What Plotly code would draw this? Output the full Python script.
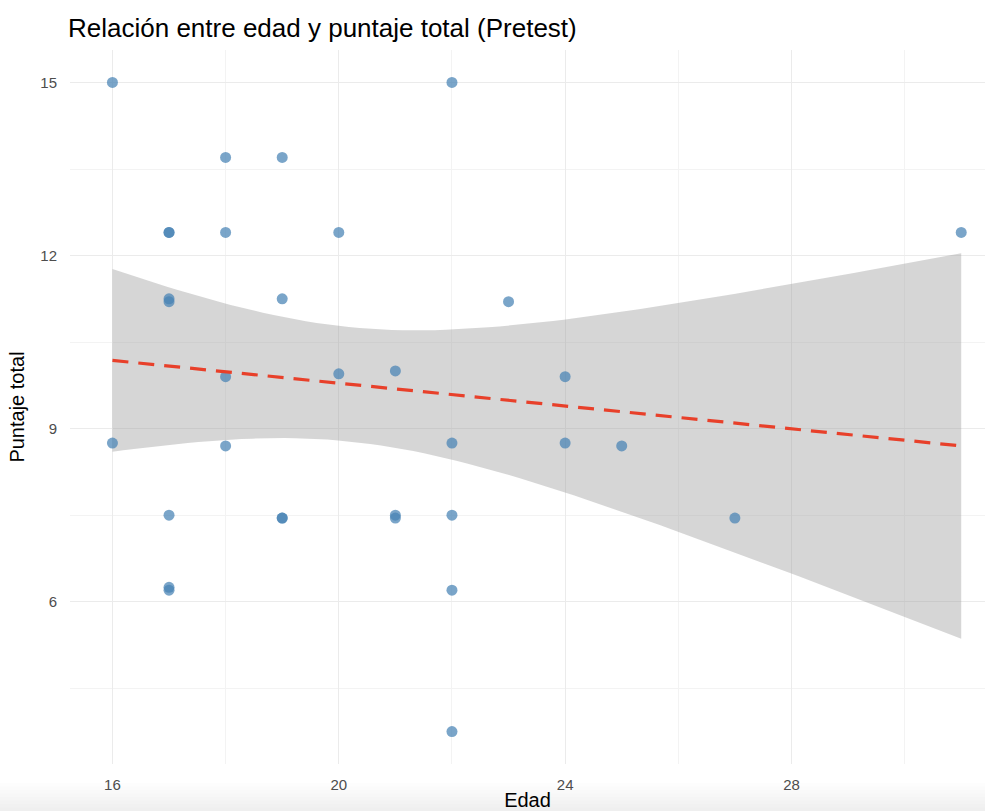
import numpy as np
import plotly.graph_objects as go

# Edad y puntaje total de cada participante (pretest)
edad = [16, 16,
        17, 17, 17, 17, 17, 17, 17,
        18, 18, 18, 18,
        19, 19, 19, 19,
        20, 20,
        21, 21, 21,
        22, 22, 22, 22, 22,
        23,
        24, 24,
        25,
        27,
        31]
puntaje = [15.0, 8.75,
           12.4, 12.4, 11.25, 11.2, 7.5, 6.25, 6.2,
           13.7, 12.4, 9.9, 8.7,
           13.7, 11.25, 7.45, 7.45,
           12.4, 9.95,
           10.0, 7.5, 7.45,
           15.0, 8.75, 7.5, 6.2, 3.75,
           11.2,
           9.9, 8.75,
           8.7,
           7.45,
           12.4]

x_ticks = [16, 20, 24, 28]
y_ticks = [6, 9, 12, 15]

# Ajuste lineal con banda de confianza del 95 %
x = np.array(edad, dtype=float)
y = np.array(puntaje, dtype=float)
n = len(x)
b1, b0 = np.polyfit(x, y, 1)
resid = y - (b0 + b1 * x)
s = np.sqrt(np.sum(resid ** 2) / (n - 2))
sxx = np.sum((x - x.mean()) ** 2)
t_crit = 2.0395  # t(0.975, gl = 31)
xg = np.linspace(x.min(), x.max(), 80)
yg = b0 + b1 * xg
se = s * np.sqrt(1.0 / n + (xg - x.mean()) ** 2 / sxx)
lo = yg - t_crit * se
hi = yg + t_crit * se

fig = go.Figure()

fig.add_trace(go.Scatter(
    x=np.concatenate([xg, xg[::-1]]),
    y=np.concatenate([hi, lo[::-1]]),
    fill="toself", fillcolor="rgba(153,153,153,0.4)",
    line=dict(width=0), mode="lines", hoverinfo="skip", showlegend=False,
))

fig.add_trace(go.Scatter(
    x=edad, y=puntaje, mode="markers",
    marker=dict(size=11, color="rgba(70,130,180,0.72)", line=dict(width=0)),
    showlegend=False,
))

fig.add_trace(go.Scatter(
    x=xg, y=yg, mode="lines",
    line=dict(color="#e8402a", width=3.2, dash="16px,10px"),
    showlegend=False,
))

# Sombra suave en el borde inferior de la ventana
plot_h = 811 - 50 - 47
shadow = []
for k in range(8):
    top_px = 811 - 3.5 * (k + 1)
    shadow.append(dict(
        type="rect", xref="paper", yref="paper", layer="below",
        x0=-70 / 915, x1=1.0,
        y0=-47 / plot_h, y1=(764 - top_px) / plot_h,
        fillcolor="rgba(0,0,0,0.009)", line=dict(width=0),
    ))

fig.update_layout(
    width=985, height=811,
    margin=dict(l=70, r=0, t=50, b=47),
    paper_bgcolor="white", plot_bgcolor="white",
    font=dict(family="Liberation Sans, Arial, sans-serif"),
    title=dict(text="Relación entre edad y puntaje total (Pretest)",
               x=68 / 985, xanchor="left", y=1 - 28 / 811, yanchor="middle",
               font=dict(size=26, color="black")),
    shapes=shadow,
)

fig.update_xaxes(
    range=[15.25, 31.42], tickvals=x_ticks, ticktext=[str(v) for v in x_ticks],
    showgrid=True, gridcolor="#ebebeb", gridwidth=1.1,
    minor=dict(dtick=2, tick0=16, showgrid=True, gridcolor="#f3f3f3", gridwidth=0.8),
    zeroline=False, showline=False, ticks="",
    tickfont=dict(size=15, color="#4d4d4d"), ticklabelstandoff=10,
    title=dict(text="Edad", font=dict(size=20, color="black"), standoff=2),
)

fig.update_yaxes(
    range=[3.1875, 15.5625], tickvals=y_ticks, ticktext=[str(v) for v in y_ticks],
    showgrid=True, gridcolor="#ebebeb", gridwidth=1.1,
    minor=dict(dtick=1.5, tick0=3, showgrid=True, gridcolor="#f3f3f3", gridwidth=0.8),
    zeroline=False, showline=False, ticks="",
    tickfont=dict(size=15, color="#4d4d4d"), ticklabelstandoff=12,
    title=dict(text="Puntaje total", font=dict(size=20, color="black"), standoff=10),
)

fig.write_html("out.html")
